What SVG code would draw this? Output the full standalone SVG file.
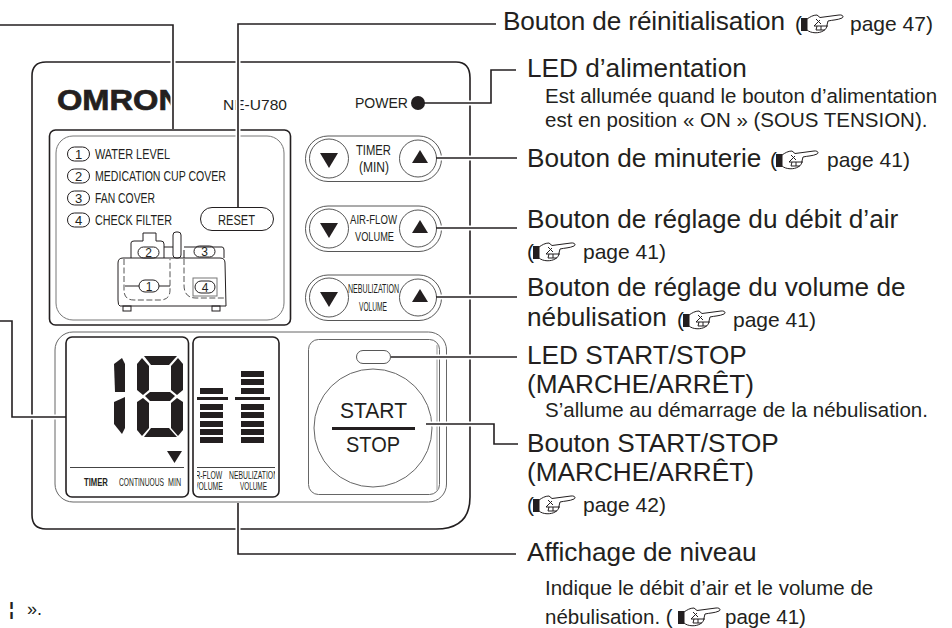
<svg xmlns="http://www.w3.org/2000/svg" xmlns:xlink="http://www.w3.org/1999/xlink" width="952" height="628" viewBox="0 0 952 628">
<style>
text{font-family:"Liberation Sans",Arial,sans-serif;fill:#231f20}
.lg{font-size:26.200px}
.sm{font-size:20.500px}
.pg{font-size:21px}
.k{fill:none;stroke:#231f20;stroke-width:1.6}
.t{fill:#fff;stroke:#444;stroke-width:.9}
.b{fill:#231f20;stroke:none}
.halo{fill:none;stroke:#fff;stroke-width:5}
.lead{fill:none;stroke:#231f20;stroke-width:1.6}
</style>
<defs>
<clipPath id="cOmron"><rect x="50" y="80" width="121" height="40"/></clipPath>
<clipPath id="cLevel"><rect x="197" y="470" width="78" height="24"/></clipPath>
<g id="hand">
<rect x="0" y="4" width="6" height="13" fill="#231f20"/>
<path d="M6 5 C9 3 12 1 16 1 L19 3.500 L38 1 C42 .5 43 3 41 4 C37 6 31 6 27 7 L26 11 C26 14 24 16 22 17 C18 19.500 10 19.500 6 16Z" fill="#fff" stroke="#231f20" stroke-width="1"/>
<path d="M15 5 L20 10 M19 6 L13 12 H27 M16 12 L15 16 H24 M20 12 V16" fill="none" stroke="#231f20" stroke-width="1"/>
</g>
</defs>

<g id="panel">
<path d="M46 62 H456 Q470 62 470 78 V497 Q470 529 436 529 H46 Q32 529 32 515 V76 Q32 62 46 62Z" fill="#fff" stroke="#231f20" stroke-width="1.600"/>
<text x="57" y="110" font-size="29" font-weight="bold" stroke="#231f20" stroke-width=".7" textLength="125" lengthAdjust="spacingAndGlyphs" clip-path="url(#cOmron)">OMRON</text>
<text x="223" y="110" font-size="15" textLength="64" lengthAdjust="spacingAndGlyphs">NE-U780</text>
</g>

<g id="alarm-panel">
<rect x="49.500" y="130" width="241" height="195" rx="6" class="k"/>
<rect x="56" y="136" width="228" height="184" rx="17" fill="none" stroke="#777" stroke-width="1"/>
<g fill="#fff" stroke="#231f20" stroke-width="1">
<rect x="67.500" y="147" width="22" height="14" rx="7"/>
<rect x="67.500" y="169" width="22" height="14" rx="7"/>
<rect x="67.500" y="191" width="22" height="14" rx="7"/>
<rect x="67.500" y="213" width="22" height="14" rx="7"/>
<rect x="200.500" y="207.500" width="73" height="23" rx="11.500"/>
</g>
<g font-size="13" text-anchor="middle">
<text x="78.500" y="158.500">1</text><text x="78.500" y="180.500">2</text><text x="78.500" y="202.500">3</text><text x="78.500" y="224.500">4</text>
</g>
<g font-size="15">
<text x="95" y="159" textLength="75" lengthAdjust="spacingAndGlyphs">WATER LEVEL</text>
<text x="95" y="181" textLength="131" lengthAdjust="spacingAndGlyphs">MEDICATION CUP COVER</text>
<text x="95" y="203" textLength="60" lengthAdjust="spacingAndGlyphs">FAN COVER</text>
<text x="95" y="225" textLength="77" lengthAdjust="spacingAndGlyphs">CHECK FILTER</text>
<text x="218" y="225" textLength="37" lengthAdjust="spacingAndGlyphs">RESET</text>
</g>
<g id="device" fill="none" stroke="#231f20" stroke-width="1">
<path d="M131 258 V243 Q131 241 134 241 H143 V233 H156 V241 H161 Q164 241 164 244 V258"/>
<path d="M164 247 H173 M184 247 H222 Q224 247 224 250 V258 M184 258 V250"/>
<rect x="173" y="232" width="8" height="26" rx="3"/>
<path d="M118 300 V263 Q118 258 123 258 H220 Q225 258 225 263 L226 306 H120 Q118 306 118 300Z"/>
<rect x="123" y="306" width="8" height="5"/><rect x="212" y="306" width="8" height="5"/>
<path d="M124 259 V290 Q124 300 134 300 H160 Q170 300 170 290 V259 M184 259 V285 Q184 298 196 298 H226" stroke-dasharray="6 2.500" stroke="#555"/>
<rect x="193" y="278" width="24" height="18" stroke="#777"/>
<rect x="195" y="281" width="20" height="12" rx="6"/>
<path d="M125 286 H139 M159 286 H170"/>
<rect x="139" y="280" width="20" height="12" rx="6"/>
<rect x="138" y="247" width="21" height="11" rx="5.500"/>
<rect x="194" y="246" width="21" height="11" rx="5.500"/>
</g>
<g font-size="12" text-anchor="middle"><text x="149" y="290.500">1</text><text x="205" y="291.500">4</text><text x="148.500" y="256.500">2</text><text x="204.500" y="255.500">3</text></g>
</g>

<g id="timer-button">
<rect x="305.500" y="136" width="136" height="45.500" rx="22.500" class="t"/>
<circle cx="329" cy="158.500" r="19.500" class="t"/><circle cx="418" cy="158.500" r="18.500" class="t"/>
<polygon points="320,153 338,153 329,168" class="b"/><polygon points="420,150 428,163 412,163" class="b"/>
<text x="356" y="155" font-size="14" textLength="35" lengthAdjust="spacingAndGlyphs">TIMER</text>
<text x="359" y="172" font-size="14" textLength="30" lengthAdjust="spacingAndGlyphs">(MIN)</text>
</g>
<g id="airflow-button">
<rect x="305.500" y="206" width="136" height="45.500" rx="22.500" class="t"/>
<circle cx="329" cy="228.500" r="19.500" class="t"/><circle cx="418" cy="228.500" r="18.500" class="t"/>
<polygon points="320,223 338,223 329,238" class="b"/><polygon points="420,220 428,233 412,233" class="b"/>
<text x="350" y="224" font-size="13" textLength="47" lengthAdjust="spacingAndGlyphs">AIR-FLOW</text>
<text x="355" y="241" font-size="13" textLength="39" lengthAdjust="spacingAndGlyphs">VOLUME</text>
</g>
<g id="nebulization-button">
<rect x="305.500" y="275" width="136" height="45.500" rx="22.500" class="t"/>
<circle cx="329" cy="297.500" r="19.500" class="t"/><circle cx="418" cy="297.500" r="18.500" class="t"/>
<polygon points="320,292 338,292 329,307" class="b"/><polygon points="420,289 428,302 412,302" class="b"/>
<text x="348" y="293" font-size="12" textLength="51" lengthAdjust="spacingAndGlyphs">NEBULIZATION</text>
<text x="359" y="311" font-size="13.500" textLength="28" lengthAdjust="spacingAndGlyphs">VOLUME</text>
</g>

<g id="display-panel">
<rect x="55" y="332" width="391.500" height="170" rx="18" fill="none" stroke="#666" stroke-width="1"/>
<rect x="66" y="337" width="122.500" height="160" rx="6" class="k"/>
<rect x="193" y="337" width="86" height="160" rx="6" class="k"/>
<g class="b">
<polygon points="122,358 125,364 125,392 115,392 114,364"/>
<polygon points="125,397 125,428 122,434 114,424 114,402"/>
<polygon points="144,356 177,356 169,365 151,365"/>
<polygon points="142,358 149,366 149,390 143,395 137,390 137,364"/>
<polygon points="178,358 183,364 183,390 177,395 171,390 171,366"/>
<polygon points="150,392 170,392 175,396 170,401 150,401 145,396"/>
<polygon points="137,402 143,398 149,403 149,428 142,436 137,430"/>
<polygon points="177,398 183,402 183,430 178,436 171,428 171,403"/>
<polygon points="151,428 169,428 177,437 144,437"/>
<polygon points="167,451 182,451 174.500,463"/>
<rect x="200" y="388" width="23" height="6"/><rect x="197" y="397" width="31" height="3"/>
<rect x="200" y="404" width="23" height="6"/><rect x="200" y="412" width="23" height="6"/><rect x="200" y="421" width="23" height="6"/><rect x="200" y="429" width="23" height="6"/><rect x="200" y="437" width="23" height="6"/>
<rect x="241" y="371" width="23" height="6"/><rect x="241" y="379" width="23" height="6"/><rect x="241" y="388" width="23" height="6"/><rect x="235" y="397" width="35" height="3"/>
<rect x="241" y="404" width="23" height="6"/><rect x="241" y="412" width="23" height="6"/><rect x="241" y="421" width="23" height="6"/><rect x="241" y="429" width="23" height="6"/><rect x="241" y="437" width="23" height="6"/>
</g>
<path d="M70 467.500 H184 M197 467.500 H275" stroke="#444" stroke-width="1" fill="none"/>
<g font-size="11">
<text transform="translate(84 486) scale(.7 1)" font-weight="bold">TIMER</text>
<text transform="translate(119 486) scale(.61 1)">CONTINUOUS</text>
<text transform="translate(168 486) scale(.65 1)">MIN</text>
<g clip-path="url(#cLevel)">
<text transform="translate(189 479) scale(.62 1)">AIR-FLOW</text>
<text transform="translate(229 479) scale(.62 1)">NEBULIZATION</text>
<text transform="translate(194 490) scale(.62 1)">VOLUME</text>
<text transform="translate(240 490) scale(.58 1)">VOLUME</text>
</g>
</g>
</g>

<g id="start-stop">
<rect x="308.500" y="339.500" width="131" height="155" rx="10" fill="none" stroke="#666" stroke-width="1"/>
<path d="M437 345 V490" stroke="#bbb" stroke-width="1.500" fill="none"/>
<rect x="356.500" y="350.500" width="34" height="13" rx="6.500" class="t"/>
<circle cx="373" cy="428" r="59" fill="#fff" stroke="#666" stroke-width="1"/>
<text x="340" y="418" font-size="22.500" textLength="67" lengthAdjust="spacingAndGlyphs">START</text>
<rect x="332" y="427" width="83" height="3" fill="#231f20"/>
<text x="346" y="452" font-size="22.500" textLength="54" lengthAdjust="spacingAndGlyphs">STOP</text>
</g>

<circle id="power-led" cx="418" cy="103" r="7" fill="#231f20"/>
<text id="power-label" x="355" y="108" font-size="14.500" textLength="53" lengthAdjust="spacingAndGlyphs">POWER</text>

<g id="connectors">
<path class="halo" d="M173 30 V129 M238 30 V207 M491 75 V103 H428 M500 158 H437 M500 228 H437 M500 297 H437 M500 357 H392 M493 424 H427 M238 504 V550 M12 417 H64"/>
<g class="lead">
<path d="M0 25 H173 V129"/>
<path d="M496 24 H238 V208"/>
<path d="M516 70 H491 V103 H424"/>
<path d="M517 158 H436"/>
<path d="M517 228 H436"/>
<path d="M517 297 H436"/>
<path d="M517 357 H391"/>
<path d="M518 444 H494 V424 H426"/>
<path d="M238 503 V554 H516"/>
<path d="M0 321 H12 V417 H66"/>
</g>
</g>

<g id="labels">
<text class="lg" x="503" y="30" textLength="282">Bouton de réinitialisation</text>
<text class="pg" x="795" y="31">(</text><use xlink:href="#hand" href="#hand" x="801" y="14"/><text class="pg" x="850" y="31">page 47)</text>
<text class="lg" x="527" y="77">LED d’alimentation</text>
<text class="sm" x="545" y="103">Est allumée quand le bouton d’alimentation</text>
<text class="sm" x="545" y="127">est en position « ON » (SOUS TENSION).</text>
<text class="lg" x="527" y="167">Bouton de minuterie</text>
<text class="pg" x="770" y="167">(</text><use xlink:href="#hand" href="#hand" x="776" y="150"/><text class="pg" x="827" y="167">page 41)</text>
<text class="lg" x="527" y="228">Bouton de réglage du débit d’air</text>
<text class="pg" x="527" y="259">(</text><use xlink:href="#hand" href="#hand" x="533" y="242"/><text class="pg" x="583" y="259">page 41)</text>
<text class="lg" x="527" y="296">Bouton de réglage du volume de</text>
<text class="lg" x="527" y="326">nébulisation</text>
<text class="pg" x="677" y="327">(</text><use xlink:href="#hand" href="#hand" x="683" y="310"/><text class="pg" x="733" y="327">page 41)</text>
<text class="lg" x="527" y="364">LED START/STOP</text>
<text class="lg" x="527" y="393">(MARCHE/ARRÊT)</text>
<text class="sm" x="545" y="417">S’allume au démarrage de la nébulisation.</text>
<text class="lg" x="527" y="452">Bouton START/STOP</text>
<text class="lg" x="527" y="481">(MARCHE/ARRÊT)</text>
<text class="pg" x="527" y="512">(</text><use xlink:href="#hand" href="#hand" x="533" y="495"/><text class="pg" x="583" y="512">page 42)</text>
<text class="lg" x="527" y="561">Affichage de niveau</text>
<text class="sm" x="545" y="595">Indique le débit d’air et le volume de</text>
<text class="sm" x="545" y="624">nébulisation. (</text><use xlink:href="#hand" href="#hand" x="678" y="607"/><text class="sm" x="725" y="624">page 41)</text>
<text x="9" y="615" font-size="18" font-weight="bold">¦</text>
<text x="27" y="615" font-size="18">».</text>
</g>
</svg>
